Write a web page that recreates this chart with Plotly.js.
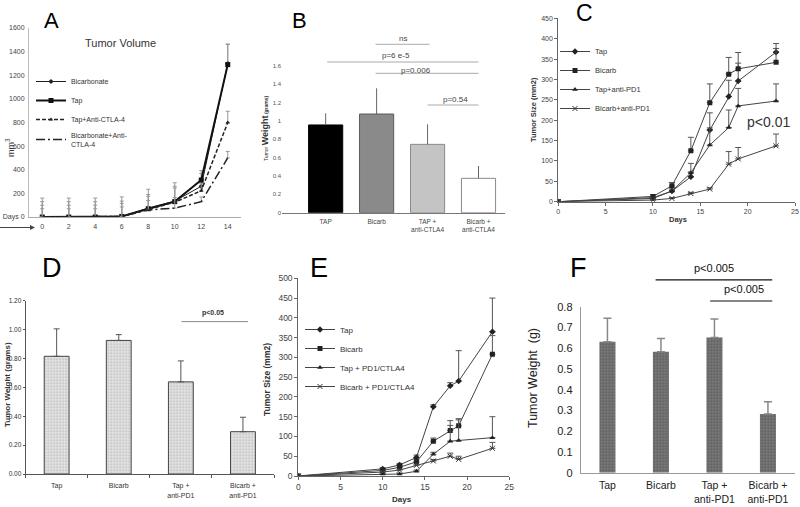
<!DOCTYPE html>
<html><head><meta charset="utf-8">
<script src="https://cdn.plot.ly/plotly-3.0.1.min.js"></script>
<style>html,body{margin:0;padding:0;background:#fff}#chart{width:800px;height:507px}</style>
</head><body><div id="chart"></div>
<script>
// ---------- Panel A: tumour volume (anti-CTLA-4) ----------
const A_days = [0, 2, 4, 6, 8, 10, 12, 14];
const A_names = ['Bicarbonate', 'Tap', 'Tap+Anti-CTLA-4', 'Bicarbonate+Anti-<br>CTLA-4'];
const A_bicarb = [0, 0, 0, 5, 75, 135, 260, 1300];
const A_tap = [0, 0, 0, 5, 70, 130, 313, 1290];
const A_tapCtla = [0, 0, 0, 5, 65, 125, 222, 800];
const A_bicarbCtla = [0, 0, 0, 5, 60, 75, 130, 500];
const A_bicarbErr = [160, 160, 160, 165, 160, 155, 110, 160];
const A_tapErr = [130, 130, 130, 130, 120, 130, 80, 175];
const A_tapCtlaErr = [100, 100, 100, 110, 110, 120, 60, 95];
const A_bicarbCtlaErr = [70, 70, 70, 80, 80, 90, 40, 55];
const A_yTicks = [0, 200, 400, 600, 800, 1000, 1200, 1400, 1600];
const A_yTickText = ['Days 0', '200', '400', '600', '800', '1000', '1200', '1400', '1600'];

// ---------- Panel B: tumour weight (anti-CTLA4) ----------
const B_groups = ['TAP', 'Bicarb', 'TAP +<br>anti-CTLA4', 'Bicarb +<br>anti-CTLA4'];
const B_weight = [0.955, 1.074, 0.744, 0.374];
const B_err = [0.127, 0.28, 0.218, 0.134];
const B_sigLabels = ['ns', 'p=6 e-5', 'p=0.006', 'p=0.54'];
const B_sigFrom = [0.98, 0.03, 0.98, 2.0];
const B_sigTo = [2.04, 3.0, 3.0, 3.0];
const B_sigLevel = [1.833, 1.640, 1.517, 1.172];
const B_sigTextX = [1.52, 1.39, 1.78, 2.55];
const B_sigTextY = [1.901, 1.716, 1.553, 1.234];

// ---------- Panel C: tumour size (anti-PD1) ----------
const C_days = [0, 10, 12, 14, 16, 18, 19, 23];
const C_names = ['Tap', 'Bicarb', 'Tap+anti-PD1', 'Bicarb+anti-PD1'];
const C_tap = [0, 10, 26, 61, 176, 258, 296, 367];
const C_bicarb = [0, 13, 39, 125, 243, 313, 326, 342];
const C_tapPd1 = [0, 8, 26, 71, 139, 182, 235, 247];
const C_bicarbPd1 = [0, 4, 8, 20, 31, 92, 105, 137];
const C_tapErr = [0, 3, 8, 12, 42, 40, 44, 21];
const C_bicarbErr = [0, 4, 8, 33, 46, 41, 40, 34];
const C_tapPd1Err = [0, 3, 5, 23, 42, 43, 43, 42];
const C_bicarbPd1Err = [0, 1, 2, 3, 3, 31, 28, 29];

// ---------- Panel D: tumour weight (anti-PD1) ----------
const D_groups = ['Tap', 'Bicarb', 'Tap +<br>anti-PD1', 'Bicarb +<br>anti-PD1'];
const D_weight = [0.815, 0.925, 0.638, 0.293];
const D_err = [0.19, 0.04, 0.145, 0.1];
const D_sigLabels = ['p<0.05'];
const D_sigFrom = [2.01];
const D_sigTo = [3.08];
const D_sigLevel = [1.055];
const D_sigTextX = [2.52];
const D_sigTextY = [1.117];

// ---------- Panel E: tumour size (PD1/CTLA4) ----------
const E_days = [0, 10, 12, 14, 16, 18, 19, 23];
const E_names = ['Tap', 'Bicarb', 'Tap + PD1/CTLA4', 'Bicarb + PD1/CTLA4'];
const E_tap = [0, 18, 28, 47, 175, 228, 240, 365];
const E_bicarb = [0, 14, 22, 36, 88, 115, 127, 308];
const E_tapCombo = [0, 5, 5, 12, 55, 88, 90, 97];
const E_bicarbCombo = [0, 10, 15, 27, 38, 50, 42, 70];
const E_tapErr = [0, 3, 4, 6, 5, 8, 77, 85];
const E_bicarbErr = [0, 3, 4, 5, 8, 25, 18, 47];
const E_tapComboErr = [0, 2, 2, 3, 5, 40, 52, 53];
const E_bicarbComboErr = [0, 2, 2, 3, 4, 8, 8, 15];

// ---------- Panel F: tumour weight (anti-PD1) ----------
const F_groups = ['Tap', 'Bicarb', 'Tap +<br>anti-PD1', 'Bicarb +<br>anti-PD1'];
const F_weight = [0.631, 0.583, 0.652, 0.283];
const F_err = [0.113, 0.064, 0.089, 0.059];
const F_sigLabels = ['p<0.005', 'p<0.005'];
const F_sigFrom = [0.9, 1.92];
const F_sigTo = [3.08, 3.08];
const F_sigLevel = [0.929, 0.8275];
const F_sigTextX = [2.0, 2.56];
const F_sigTextY = [0.985, 0.884];

const FONT = '"Liberation Sans", Arial, sans-serif';
const W = 800, H = 507;
const px = v => v / W;
const py = v => 1 - v / H;

function errUp(arr, color, width, thick) {
  return {type: 'data', symmetric: false, array: arr, arrayminus: arr.map(() => 0),
          color: color, width: width, thickness: thick};
}
function lineTrace(x, y, err, name, xa, ya, leg, opts) {
  return Object.assign({
    type: 'scatter', mode: 'lines+markers', x: x, y: y, name: name,
    xaxis: xa, yaxis: ya, legend: leg,
    error_y: errUp(err, opts.errColor || '#555', opts.capW || 3, 1)
  }, opts.extra);
}

const traces = [];
// A
const aLeg = 'legend';
traces.push(lineTrace(A_days, A_bicarb, A_bicarbErr, A_names[0], 'x', 'y', aLeg,
  {errColor: '#999', capW: 2, extra: {line: {color: '#222', width: 1}, marker: {symbol: 'diamond', size: 4, color: '#222'}}}));
traces.push(lineTrace(A_days, A_tap, A_tapErr, A_names[1], 'x', 'y', aLeg,
  {errColor: '#999', capW: 2, extra: {line: {color: '#111', width: 2}, marker: {symbol: 'square', size: 5, color: '#111'}}}));
traces.push(lineTrace(A_days, A_tapCtla, A_tapCtlaErr, A_names[2], 'x', 'y', aLeg,
  {errColor: '#999', capW: 2, extra: {line: {color: '#222', width: 1.5, dash: '4px,2px'}, marker: {symbol: 'triangle-up', size: 4, color: '#222'}}}));
traces.push(lineTrace(A_days, A_bicarbCtla, A_bicarbCtlaErr, A_names[3], 'x', 'y', aLeg,
  {errColor: '#999', capW: 2, extra: {mode: 'lines', line: {color: '#222', width: 1.5, dash: '9px,3px,2px,3px'}}}));

// B
traces.push({type: 'bar', x: B_groups, y: B_weight, xaxis: 'x2', yaxis: 'y2', showlegend: false, width: 0.67,
  marker: {color: ['#000000', '#8a8a8a', '#c4c4c4', '#ffffff'], line: {color: ['#000', '#5a5a5a', '#8a8a8a', '#8a8a8a'], width: 1}},
  error_y: errUp(B_err, '#666', 0, 1)});

// C
const cLeg = 'legend2';
const cLine = {color: '#444', width: 1};
traces.push(lineTrace(C_days, C_tap, C_tapErr, C_names[0], 'x3', 'y3', cLeg, {extra: {line: cLine, marker: {symbol: 'diamond', size: 5, color: '#222'}}}));
traces.push(lineTrace(C_days, C_bicarb, C_bicarbErr, C_names[1], 'x3', 'y3', cLeg, {extra: {line: cLine, marker: {symbol: 'square', size: 5, color: '#222'}}}));
traces.push(lineTrace(C_days, C_tapPd1, C_tapPd1Err, C_names[2], 'x3', 'y3', cLeg, {extra: {line: cLine, marker: {symbol: 'triangle-up', size: 5, color: '#222'}}}));
traces.push(lineTrace(C_days, C_bicarbPd1, C_bicarbPd1Err, C_names[3], 'x3', 'y3', cLeg, {extra: {line: cLine, marker: {symbol: 'x-thin-open', size: 5, color: '#333', line: {width: 1, color: '#333'}}}}));

// D
traces.push({type: 'bar', x: D_groups, y: D_weight, xaxis: 'x4', yaxis: 'y4', showlegend: false, width: 0.4,
  marker: {color: '#e2e2e2', line: {color: '#444', width: 1},
           pattern: {shape: '.', fgcolor: '#b8b8b8', bgcolor: '#e6e6e6', size: 3, solidity: 0.3}},
  error_y: errUp(D_err, '#555', 3, 1)});

// E
const eLeg = 'legend3';
const eLine = {color: '#444', width: 1};
traces.push(lineTrace(E_days, E_tap, E_tapErr, E_names[0], 'x5', 'y5', eLeg, {extra: {line: eLine, marker: {symbol: 'diamond', size: 5, color: '#222'}}}));
traces.push(lineTrace(E_days, E_bicarb, E_bicarbErr, E_names[1], 'x5', 'y5', eLeg, {extra: {line: eLine, marker: {symbol: 'square', size: 5, color: '#222'}}}));
traces.push(lineTrace(E_days, E_tapCombo, E_tapComboErr, E_names[2], 'x5', 'y5', eLeg, {extra: {line: eLine, marker: {symbol: 'triangle-up', size: 5, color: '#222'}}}));
traces.push(lineTrace(E_days, E_bicarbCombo, E_bicarbComboErr, E_names[3], 'x5', 'y5', eLeg, {extra: {line: eLine, marker: {symbol: 'x-thin-open', size: 5, color: '#333', line: {width: 1, color: '#333'}}}}));

// F
traces.push({type: 'bar', x: F_groups, y: F_weight, xaxis: 'x6', yaxis: 'y6', showlegend: false, width: 0.3,
  marker: {color: '#6e6e6e', line: {width: 0},
           pattern: {shape: '.', fgcolor: '#5a5a5a', bgcolor: '#7a7a7a', size: 3, solidity: 0.4}},
  error_y: errUp(F_err, '#888', 4, 1.5)});

const baseAx = {showgrid: false, zeroline: false, fixedrange: true};
function ax(o) { return Object.assign({}, baseAx, o); }

const layout = {
  width: W, height: H, margin: {l: 0, r: 0, t: 0, b: 0},
  paper_bgcolor: '#fff', plot_bgcolor: 'rgba(0,0,0,0)',
  font: {family: FONT, color: '#333'},
  // A
  xaxis: ax({domain: [px(29), px(241)], range: [-1, 15], anchor: 'y', tickvals: A_days,
    tickfont: {size: 7, color: '#444'}, showline: true, linecolor: '#aaa', ticks: '', ticklabelstandoff: 3}),
  yaxis: ax({domain: [py(217), py(28)], range: [0, 1600], anchor: 'x', tickvals: A_yTicks, ticktext: A_yTickText,
    tickfont: {size: 7, color: '#444'}, showline: true, linecolor: '#bbb', ticks: '', ticklabelstandoff: 2}),
  // B
  xaxis2: ax({domain: [px(282), px(505)], range: [-0.857, 3.52], anchor: 'y2', type: 'category',
    tickfont: {size: 6.5, color: '#444'}, showline: true, linecolor: '#777', ticks: '', ticklabelstandoff: 2}),
  yaxis2: ax({domain: [py(212.7), py(65.7)], range: [0, 1.6], anchor: 'x2', dtick: 0.2,
    tickfont: {size: 6, color: '#555'}, showline: false, ticks: ''}),
  // C
  xaxis3: ax({domain: [px(558.3), px(795)], range: [0, 25], anchor: 'y3', dtick: 5,
    tickfont: {size: 7, color: '#444'}, showline: true, linecolor: '#666', ticks: 'outside', ticklen: 3, tickcolor: '#666'}),
  yaxis3: ax({domain: [py(201.7), py(18.3)], range: [0, 450], anchor: 'x3', dtick: 50,
    tickfont: {size: 7, color: '#444'}, showline: true, linecolor: '#666', ticks: 'outside', ticklen: 3, tickcolor: '#666'}),
  // D
  xaxis4: ax({domain: [px(25.6), px(274)], range: [-0.5, 3.5], anchor: 'y4', type: 'category',
    tickfont: {size: 7, color: '#333'}, showline: true, linecolor: '#555', ticks: 'outside', tickson: 'boundaries', ticklen: 3, tickcolor: '#555', ticklabelstandoff: 5}),
  yaxis4: ax({domain: [py(474), py(300.7)], range: [0, 1.2], anchor: 'x4', dtick: 0.2, tickformat: '.2f',
    tickfont: {size: 6.5, color: '#333'}, showline: true, linecolor: '#555', ticks: 'outside', ticklen: 2, tickcolor: '#555'}),
  // E
  xaxis5: ax({domain: [px(298.3), px(509.3)], range: [0, 25], anchor: 'y5', dtick: 5,
    tickfont: {size: 8.5, color: '#444'}, showline: true, linecolor: '#666', ticks: 'outside', ticklen: 3, tickcolor: '#666'}),
  yaxis5: ax({domain: [py(476), py(278.3)], range: [0, 500], anchor: 'x5', dtick: 50,
    tickfont: {size: 8.5, color: '#444'}, showline: true, linecolor: '#666', ticks: 'outside', ticklen: 3, tickcolor: '#666'}),
  // F
  xaxis6: ax({domain: [px(580.7), px(794.7)], range: [-0.5, 3.5], anchor: 'y6', type: 'category',
    tickfont: {size: 10.5, color: '#222'}, showline: true, linecolor: '#999', ticks: '', ticklabelstandoff: 3}),
  yaxis6: ax({domain: [py(472.7), py(306.7)], range: [0, 0.8], anchor: 'x6', dtick: 0.1,
    tickfont: {size: 11, color: '#222'}, showline: true, linecolor: '#999', ticks: '', ticklabelstandoff: 5}),
  legend: {x: px(31), y: py(67), xanchor: 'left', yanchor: 'top', font: {size: 7, color: '#333'},
    bgcolor: 'rgba(0,0,0,0)', itemwidth: 30, tracegroupgap: 0},
  legend2: {x: px(555), y: py(37), xanchor: 'left', yanchor: 'top', font: {size: 7.5, color: '#333'},
    bgcolor: 'rgba(0,0,0,0)', itemwidth: 30, tracegroupgap: 0},
  legend3: {x: px(300), y: py(315), xanchor: 'left', yanchor: 'top', font: {size: 8, color: '#333'},
    bgcolor: 'rgba(0,0,0,0)', itemwidth: 30, tracegroupgap: 0},
  shapes: [],
  annotations: []
};

// convert an axis value (category index or number) into paper coordinates via the axis' domain and range
function toPaper(axName, v) {
  const a = layout[axName];
  return a.domain[0] + (v - a.range[0]) / (a.range[1] - a.range[0]) * (a.domain[1] - a.domain[0]);
}
function addBrackets(xa, ya, labels, from, to, level, tx, tyv, lineColor, lineWidth, font) {
  labels.forEach((t, i) => {
    layout.shapes.push({type: 'line', xref: 'paper', yref: 'paper',
      x0: toPaper(xa, from[i]), x1: toPaper(xa, to[i]),
      y0: toPaper(ya, level[i]), y1: toPaper(ya, level[i]),
      line: {color: lineColor, width: lineWidth}});
    layout.annotations.push({text: t, xref: 'paper', yref: 'paper', x: toPaper(xa, tx[i]), y: toPaper(ya, tyv[i]),
      xanchor: 'center', yanchor: 'middle', showarrow: false, font: font});
  });
}

function paperText(text, x, y, size, extra) {
  return Object.assign({text: text, x: px(x), y: py(y), xref: 'paper', yref: 'paper', showarrow: false,
    xanchor: 'center', yanchor: 'middle', font: {size: size, family: FONT, color: '#333'}}, extra || {});
}
const ann = layout.annotations;
// panel letters
[['A', 51, 21, 22], ['B', 299, 21, 22], ['C', 584, 13, 23], ['D', 52, 268, 27], ['E', 319, 268, 27], ['F', 578, 268, 27]]
  .forEach(l => ann.push(paperText(l[0], l[1], l[2], l[3], {font: {size: l[3], family: FONT, color: '#000'}})));
// A texts
ann.push(paperText('Tumor Volume', 120, 43, 11));
ann.push(paperText('mm<sup>3</sup>', 10, 148, 9, {textangle: -90}));
layout.shapes.push({type: 'line', xref: 'paper', yref: 'paper', x0: px(0), x1: px(30), y0: py(227.5), y1: py(227.5),
  line: {color: '#444', width: 1}});
layout.shapes.push({type: 'path', xref: 'paper', yref: 'paper',
  path: 'M ' + px(30) + ' ' + py(225) + ' L ' + px(35) + ' ' + py(227.5) + ' L ' + px(30) + ' ' + py(230) + ' Z',
  fillcolor: '#444', line: {width: 0}});
// B texts
ann.push(paperText('<span style="font-size:5px">Tumor </span><b>Weight</b><span style="font-size:5px"><b> (grams)</b></span>', 265, 128, 9, {textangle: -90}));
addBrackets('xaxis2', 'yaxis2', B_sigLabels, B_sigFrom, B_sigTo, B_sigLevel, B_sigTextX, B_sigTextY,
  '#aaa', 1, {size: 8, family: FONT, color: '#444'});
// C texts
ann.push(paperText('<b>Tumor Size (mm2)</b>', 533, 110, 7.5, {textangle: -90}));
ann.push(paperText('<b>Days</b>', 678, 219, 7.5));
ann.push({text: 'p<0.01', xref: 'x3', yref: 'y3', x: 22.15, y: 196, showarrow: false, font: {size: 14, family: FONT, color: '#333'}});
// D texts
ann.push(paperText('<b>Tumor Weight (grams)</b>', 7, 385, 8, {textangle: -90}));
addBrackets('xaxis4', 'yaxis4', D_sigLabels.map(t => '<b>' + t + '</b>'), D_sigFrom, D_sigTo, D_sigLevel, D_sigTextX, D_sigTextY,
  '#888', 1, {size: 7, family: FONT, color: '#333'});
// E texts
ann.push(paperText('<b>Tumor Size (mm2)</b>', 267, 380, 8.5, {textangle: -90}));
ann.push(paperText('<b>Days</b>', 402, 499, 8));
// F texts
ann.push(paperText('Tumor Weight  (g)', 533, 378, 12.5, {textangle: -90, font: {size: 12.5, family: FONT, color: '#222'}}));
addBrackets('xaxis6', 'yaxis6', F_sigLabels, F_sigFrom, F_sigTo, F_sigLevel, F_sigTextX, F_sigTextY,
  '#111', 1.2, {size: 11, family: FONT, color: '#111'});

Plotly.newPlot('chart', traces, layout, {staticPlot: true, displayModeBar: false});
</script>
</body></html>
